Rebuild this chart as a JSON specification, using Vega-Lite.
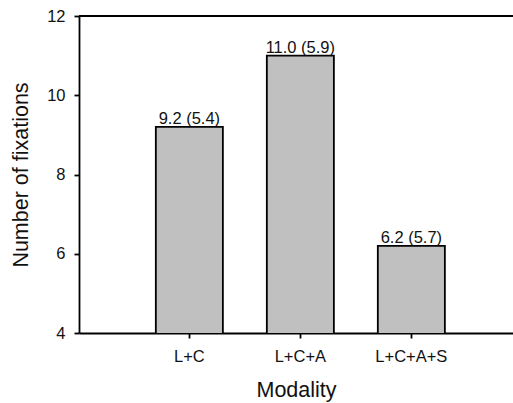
{
  "$schema": "https://vega.github.io/schema/vega-lite/v6.json",
  "width": 434,
  "height": 317,
  "autosize": {"type": "none"},
  "padding": {"left": 79, "top": 16, "right": 0, "bottom": 70},
  "background": "white",
  "config": {
    "view": {"stroke": null},
    "font": "Liberation Sans",
    "axis": {
      "domainColor": "black",
      "domainWidth": 1.8,
      "tickColor": "black",
      "tickWidth": 1.8,
      "tickSize": 5,
      "labelColor": "#111",
      "titleColor": "#111",
      "labelFont": "Liberation Sans",
      "titleFont": "Liberation Sans",
      "titleFontWeight": "normal",
      "grid": false
    }
  },
  "data": {
    "values": [
      {"modality": "L+C", "mean": 9.2, "sd": 5.4, "label": "9.2 (5.4)"},
      {"modality": "L+C+A", "mean": 11.0, "sd": 5.9, "label": "11.0 (5.9)"},
      {"modality": "L+C+A+S", "mean": 6.2, "sd": 5.7, "label": "6.2 (5.7)"}
    ]
  },
  "encoding": {
    "x": {
      "field": "modality",
      "type": "nominal",
      "sort": null,
      "scale": {"paddingInner": 0.396, "paddingOuter": 0.653, "align": 0.53},
      "axis": {
        "title": "Modality",
        "labelAngle": 0,
        "labelFontSize": 16.5,
        "titleFontSize": 21.5,
        "labelPadding": 10,
        "titlePadding": 15
      }
    },
    "y": {
      "field": "mean",
      "type": "quantitative",
      "scale": {"domain": [4, 12], "nice": false, "zero": false},
      "axis": {
        "title": "Number of fixations",
        "values": [4, 6, 8, 10, 12],
        "labelFontSize": 16.5,
        "titleFontSize": 21.5,
        "labelPadding": 9,
        "titlePadding": 14
      }
    }
  },
  "layer": [
    {
      "mark": {"type": "bar", "fill": "#c0c0c0", "stroke": "black", "strokeWidth": 1.8, "clip": true}
    },
    {
      "mark": {"type": "text", "baseline": "alphabetic", "dy": -3, "fontSize": 16.5, "color": "#111"},
      "encoding": {"text": {"field": "label"}}
    },
    {
      "mark": {"type": "rule", "color": "black", "strokeWidth": 1.8},
      "encoding": {"y": {"datum": 12}, "x": null}
    }
  ]
}
